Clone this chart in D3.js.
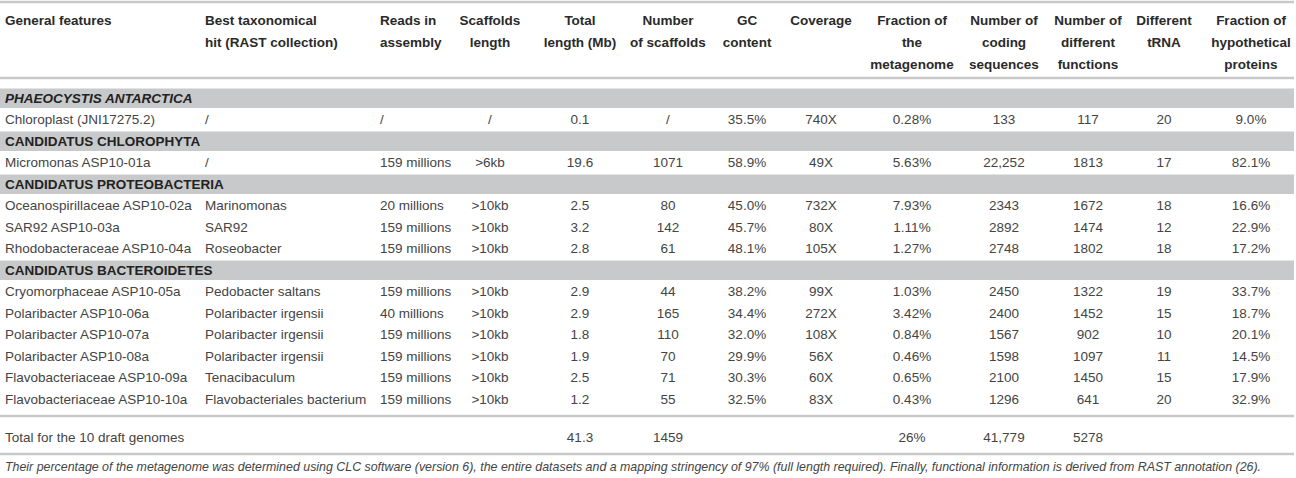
<!DOCTYPE html>
<html>
<head>
<meta charset="utf-8">
<script src="https://cdn.jsdelivr.net/npm/d3@7"></script>
<style>
  body { margin: 0; background: #fff; }
  text { font-family: "Liberation Sans", Arial, sans-serif; }
</style>
</head>
<body>
<script>
// table values
const headers = [
  ["General features"],
  ["Best taxonomical", "hit (RAST collection)"],
  ["Reads in", "assembly"],
  ["Scaffolds", "length"],
  ["Total", "length (Mb)"],
  ["Number", "of scaffolds"],
  ["GC", "content"],
  ["Coverage"],
  ["Fraction of", "the", "metagenome"],
  ["Number of", "coding", "sequences"],
  ["Number of", "different", "functions"],
  ["Different", "tRNA"],
  ["Fraction of", "hypothetical", "proteins"]
];

const groups = ["PHAEOCYSTIS ANTARCTICA", "CANDIDATUS CHLOROPHYTA", "CANDIDATUS PROTEOBACTERIA", "CANDIDATUS BACTEROIDETES"];
const groupOf = [0, 1, 2, 2, 2, 3, 3, 3, 3, 3, 3];

const names = ["Chloroplast (JNI17275.2)", "Micromonas ASP10-01a", "Oceanospirillaceae ASP10-02a", "SAR92 ASP10-03a",
  "Rhodobacteraceae ASP10-04a", "Cryomorphaceae ASP10-05a", "Polaribacter ASP10-06a", "Polaribacter ASP10-07a",
  "Polaribacter ASP10-08a", "Flavobacteriaceae ASP10-09a", "Flavobacteriaceae ASP10-10a"];
const bestHit = ["/", "/", "Marinomonas", "SAR92", "Roseobacter", "Pedobacter saltans", "Polaribacter irgensii",
  "Polaribacter irgensii", "Polaribacter irgensii", "Tenacibaculum", "Flavobacteriales bacterium"];
const reads = ["/", "159 millions", "20 millions", "159 millions", "159 millions", "159 millions", "40 millions",
  "159 millions", "159 millions", "159 millions", "159 millions"];
const scaffLength = ["/", ">6kb", ">10kb", ">10kb", ">10kb", ">10kb", ">10kb", ">10kb", ">10kb", ">10kb", ">10kb"];
const totalLength = ["0.1", "19.6", "2.5", "3.2", "2.8", "2.9", "2.9", "1.8", "1.9", "2.5", "1.2"];
const numScaffolds = ["/", "1071", "80", "142", "61", "44", "165", "110", "70", "71", "55"];
const gcContent = ["35.5%", "58.9%", "45.0%", "45.7%", "48.1%", "38.2%", "34.4%", "32.0%", "29.9%", "30.3%", "32.5%"];
const coverage = ["740X", "49X", "732X", "80X", "105X", "99X", "272X", "108X", "56X", "60X", "83X"];
const fracMetagenome = ["0.28%", "5.63%", "7.93%", "1.11%", "1.27%", "1.03%", "3.42%", "0.84%", "0.46%", "0.65%", "0.43%"];
const codingSeqs = ["133", "22,252", "2343", "2892", "2748", "2450", "2400", "1567", "1598", "2100", "1296"];
const diffFunctions = ["117", "1813", "1672", "1474", "1802", "1322", "1452", "902", "1097", "1450", "641"];
const tRNA = ["20", "17", "18", "12", "18", "19", "15", "10", "11", "15", "20"];
const fracHypo = ["9.0%", "82.1%", "16.6%", "22.9%", "17.2%", "33.7%", "18.7%", "20.1%", "14.5%", "17.9%", "32.9%"];

const totals = ["Total for the 10 draft genomes", "", "", "", "41.3", "1459", "", "", "26%", "41,779", "5278", "", ""];

const footnote = "Their percentage of the metagenome was determined using CLC software (version 6), the entire datasets and a mapping stringency of 97% (full length required). Finally, functional information is derived from RAST annotation (26).";

const columns = [names, bestHit, reads, scaffLength, totalLength, numScaffolds, gcContent, coverage,
  fracMetagenome, codingSeqs, diffFunctions, tRNA, fracHypo];

// layout
const W = 1296, H = 478;
const colIdx = d3.range(columns.length);
const colX = d3.scaleOrdinal().domain(colIdx)
  .range([5, 205, 380, 490, 580, 668, 747, 821, 912, 1004, 1088, 1164, 1251]);
const anchorOf = i => (i < 3 ? "start" : "middle");

const lineColor = "#c9c9c9";
const bandColor = "#c8c9ca";
const bodyColor = "#444";
const fs = 13.5;

const svg = d3.select("body").append("svg")
  .attr("width", W)
  .attr("height", H);

// header
const head = svg.append("g").attr("class", "header");
headers.forEach((lines, i) => {
  head.selectAll(null)
    .data(lines)
    .enter()
    .append("text")
    .attr("x", colX(i))
    .attr("y", (d, k) => 20 + k * 22)
    .attr("dy", "0.35em")
    .attr("text-anchor", anchorOf(i))
    .attr("font-size", fs)
    .attr("font-weight", "bold")
    .attr("fill", "#2a2a2a")
    .text(d => d);
});

// body rows: a group band then its members
const items = [];
groups.forEach((g, gi) => {
  items.push({ type: "group", label: g, gi: gi });
  groupOf.forEach((v, r) => { if (v === gi) items.push({ type: "row", r: r }); });
});

const yRow = d3.scaleBand()
  .domain(d3.range(items.length))
  .range([87.5, 87.5 + items.length * 21.5]);

const bands = items.map((d, i) => ({ ...d, i: i })).filter(d => d.type === "group");

svg.selectAll("rect.band")
  .data(bands)
  .enter()
  .append("rect")
  .attr("class", "band")
  .attr("x", 0)
  .attr("width", W - 2)
  .attr("y", d => yRow(d.i) + 1)
  .attr("height", yRow.bandwidth() - 2)
  .attr("fill", bandColor);

svg.selectAll("text.band")
  .data(bands)
  .enter()
  .append("text")
  .attr("class", "band")
  .attr("x", 5)
  .attr("y", d => yRow(d.i) + yRow.bandwidth() / 2)
  .attr("dy", "0.35em")
  .attr("font-size", fs)
  .attr("font-weight", "bold")
  .attr("font-style", d => (d.gi === 0 ? "italic" : "normal"))
  .attr("fill", "#222")
  .text(d => d.label);

const rows = items.map((d, i) => ({ ...d, i: i })).filter(d => d.type === "row");

const rowG = svg.selectAll("g.row")
  .data(rows)
  .enter()
  .append("g")
  .attr("class", "row")
  .attr("transform", d => `translate(0,${yRow(d.i) + yRow.bandwidth() / 2})`);

rowG.selectAll("text")
  .data(d => colIdx.map(c => ({ c: c, v: columns[c][d.r] })))
  .enter()
  .append("text")
  .attr("x", d => colX(d.c))
  .attr("dy", "0.35em")
  .attr("text-anchor", d => anchorOf(d.c))
  .attr("font-size", fs)
  .attr("fill", bodyColor)
  .text(d => d.v);

// rules
svg.selectAll("line.rule")
  .data([2, 78, 416, 454])
  .enter()
  .append("line")
  .attr("class", "rule")
  .attr("x1", 0)
  .attr("x2", W - 2)
  .attr("y1", d => d)
  .attr("y2", d => d)
  .attr("stroke", lineColor)
  .attr("stroke-width", 2.5);

// totals row
svg.append("g")
  .attr("transform", "translate(0,437)")
  .selectAll("text")
  .data(totals.map((v, c) => ({ c: c, v: v })).filter(d => d.v !== ""))
  .enter()
  .append("text")
  .attr("x", d => colX(d.c))
  .attr("dy", "0.35em")
  .attr("text-anchor", d => anchorOf(d.c))
  .attr("font-size", fs)
  .attr("fill", bodyColor)
  .text(d => d.v);

// footnote, stretched to the width it has in the picture
const note = svg.append("text")
  .attr("x", 5)
  .attr("y", 467)
  .attr("dy", "0.35em")
  .attr("font-size", 11.5)
  .attr("font-style", "italic")
  .attr("fill", bodyColor)
  .text(footnote);
const nl = note.node().getComputedTextLength();
note.attr("font-size", 11.5 * 1257 / nl);
</script>
</body>
</html>
